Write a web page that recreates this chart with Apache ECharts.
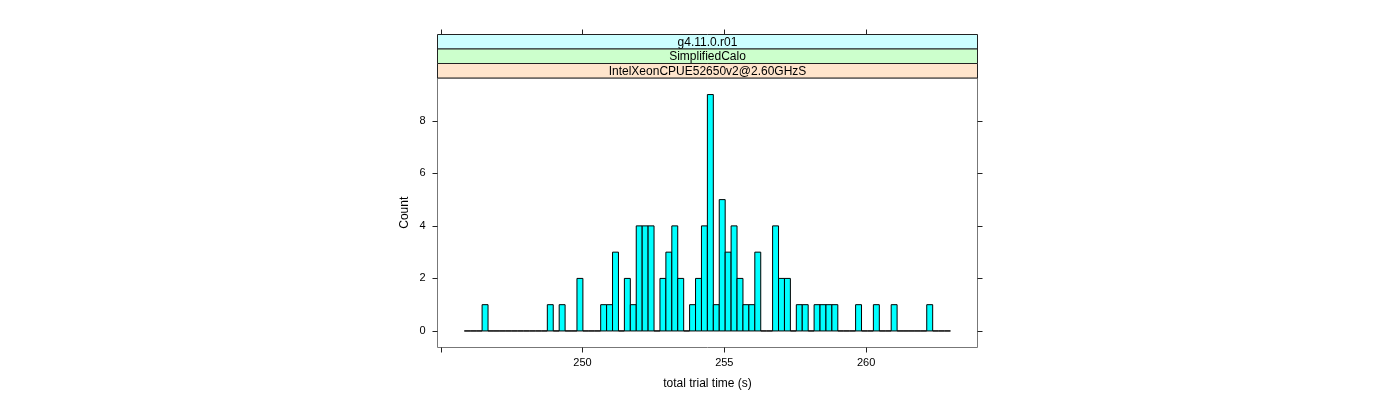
<!DOCTYPE html>
<html>
<head>
<meta charset="utf-8">
<script src="https://cdn.jsdelivr.net/npm/echarts@6/dist/echarts.min.js"></script>
<style>
html,body{margin:0;padding:0;background:#fff;}
#chart{width:1400px;height:400px;}
</style>
</head>
<body>
<div id="chart"></div>
<script>
// ---- data ----
const stripLabels = ["g4.11.0.r01", "SimplifiedCalo", "IntelXeonCPUE52650v2@2.60GHzS"];
const breakStart = 245.83;   // left edge of first histogram bin (s)
const breakWidth = 0.2091;   // bin width (s)
const counts = [
  0,0,0,1,0,0,0,0,0,0,
  0,0,0,0,1,0,1,0,0,2,
  0,0,0,1,1,3,0,2,1,4,
  4,4,0,2,3,4,2,0,1,2,
  4,9,1,5,3,4,2,1,1,3,
  0,0,4,2,2,0,1,1,0,1,
  1,1,1,0,0,0,1,0,0,1,
  0,0,1,0,0,0,0,0,1,0,
  0,0
];
const xTicks = [245, 250, 255, 260];
const xTickLabels = [250, 255, 260];
const yTicks = [0, 2, 4, 6, 8];
const xTitle = "total trial time (s)";
const yTitle = "Count";

// ---- build ----
const bins = counts.map((c, k) => [breakStart + k * breakWidth, breakStart + (k + 1) * breakWidth, c]);

const FONT = "Liberation Sans";
const gridL = 437.5, gridR = 977.5, gridT = 78, gridB = 347.5;
const stripColors = ["#CCFFFF", "#CCFFCC", "#FFE5CC"];
const stripTops = [34.5, 49, 63.5];
const stripH = 14.5;
const graphics = [];
stripLabels.forEach((lab, i) => {
  graphics.push({
    type: 'rect', silent: true,
    shape: {x: gridL, y: stripTops[i], width: gridR - gridL, height: stripH},
    style: {fill: stripColors[i], stroke: '#222', lineWidth: 1}
  });
  graphics.push({
    type: 'text', silent: true,
    x: (gridL + gridR) / 2, y: stripTops[i] + stripH / 2 + 0.5,
    style: {text: lab, fontFamily: FONT, fontSize: 12, fill: '#000', align: 'center', verticalAlign: 'middle'}
  });
});

const tickStyle = {lineStyle: {color: '#222', width: 1}};
const chart = echarts.init(document.getElementById('chart'), null, {renderer: 'canvas'});
chart.setOption({
  animation: false,
  backgroundColor: '#fff',
  grid: {left: gridL, right: 1400 - gridR, top: gridT, bottom: 400 - gridB, show: true, borderColor: '#777', borderWidth: 1},
  xAxis: [{
    type: 'value', min: 244.884, max: 263.93, position: 'bottom',
    axisLine: {show: false, onZero: false}, splitLine: {show: false},
    axisTick: {show: true, inside: false, length: 5, customValues: xTicks, ...tickStyle},
    axisLabel: {customValues: xTickLabels, margin: 10, fontFamily: FONT, fontSize: 11, color: '#000'},
    name: xTitle, nameLocation: 'middle', nameGap: 30,
    nameTextStyle: {fontFamily: FONT, fontSize: 12, color: '#000'}
  }, {
    type: 'value', min: 244.884, max: 263.93, position: 'top', offset: gridT - stripTops[0],
    axisLine: {show: false, onZero: false}, splitLine: {show: false},
    axisTick: {show: true, inside: false, length: 5, customValues: xTicks, ...tickStyle},
    axisLabel: {show: false}
  }],
  yAxis: [{
    type: 'value', min: -0.63, max: 9.63, position: 'left',
    axisLine: {show: false, onZero: false}, splitLine: {show: false},
    axisTick: {show: true, inside: false, length: 5, customValues: yTicks, ...tickStyle},
    axisLabel: {customValues: yTicks, margin: 12, fontFamily: FONT, fontSize: 11, color: '#000'},
    name: yTitle, nameLocation: 'middle', nameGap: 27, nameRotate: 90,
    nameTextStyle: {fontFamily: FONT, fontSize: 12, color: '#000'}
  }, {
    type: 'value', min: -0.63, max: 9.63, position: 'right',
    axisLine: {show: false, onZero: false}, splitLine: {show: false},
    axisTick: {show: true, inside: false, length: 5, customValues: yTicks, ...tickStyle},
    axisLabel: {show: false}
  }],
  graphic: graphics,
  series: [{
    type: 'custom',
    xAxisIndex: 0, yAxisIndex: 0,
    data: bins,
    renderItem: function (params, api) {
      const p0 = api.coord([api.value(0), 0]);
      const p1 = api.coord([api.value(1), api.value(2)]);
      return {
        type: 'rect',
        shape: {x: p0[0], y: p1[1], width: p1[0] - p0[0], height: p0[1] - p1[1]},
        style: {fill: '#00FFFF', stroke: '#000', lineWidth: 1}
      };
    }
  }]
});
</script>
</body>
</html>
